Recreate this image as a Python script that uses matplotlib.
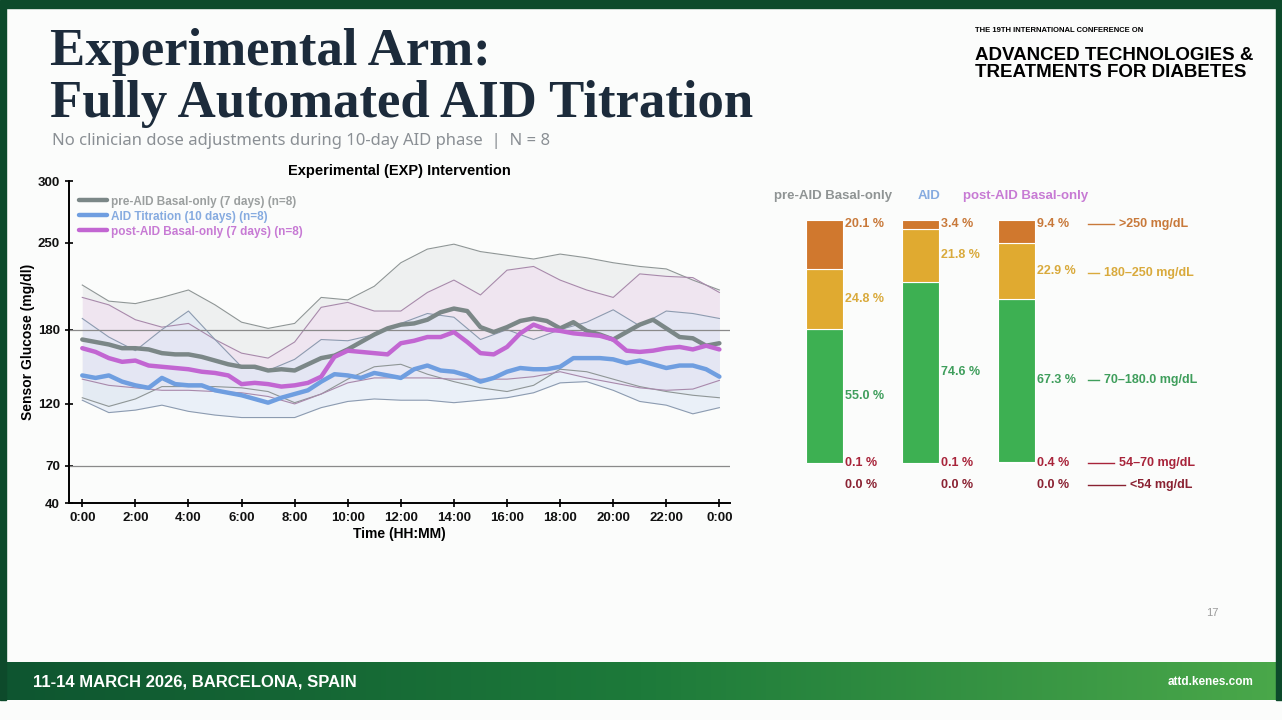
import numpy as np
import matplotlib.pyplot as plt
from matplotlib.patches import Rectangle
from matplotlib.colors import LinearSegmentedColormap

plt.rcParams['font.family'] = ['Liberation Sans', 'DejaVu Sans']

# ---- CGM profile data (mg/dL) ----
hours_fine = np.arange(0, 24.5, 0.5)
hours = np.arange(0, 25, 1)

pre_median = [172, 170, 168, 165, 165, 164, 161, 160, 160, 158, 155, 152, 150, 150, 147, 148,
              147, 152, 157, 159, 164, 170, 176, 181, 184, 185, 188, 194, 197, 195, 182, 178,
              182, 187, 189, 187, 181, 186, 179, 176, 172, 178, 184, 188, 181, 174, 173, 167, 169]
aid_median = [143, 141, 143, 138, 135, 133, 141, 136, 135, 135, 131, 129, 127, 124, 121, 125,
              128, 131, 138, 144, 143, 141, 145, 143, 141, 148, 151, 147, 146, 143, 138, 141,
              146, 149, 148, 148, 150, 157, 157, 157, 156, 153, 155, 152, 149, 151, 151, 148, 142]
post_median = [165, 162, 157, 154, 155, 151, 150, 149, 148, 146, 145, 143, 136, 137, 136, 134,
               135, 137, 142, 158, 163, 162, 161, 160, 169, 171, 174, 174, 178, 170, 161, 160,
               166, 177, 184, 180, 179, 177, 176, 175, 172, 163, 162, 163, 165, 166, 164, 167, 164]

pre_hi = [216, 203, 201, 206, 212, 200, 186, 181, 185, 206, 204, 215, 234, 245, 249, 243,
          240, 237, 241, 238, 234, 231, 229, 220, 212]
pre_lo = [125, 118, 124, 134, 134, 134, 133, 130, 121, 128, 140, 150, 152, 144, 138, 133,
          130, 135, 148, 146, 140, 134, 130, 127, 125]
aid_hi = [189, 174, 163, 180, 195, 172, 150, 147, 156, 172, 171, 176, 185, 193, 190, 172,
          180, 172, 180, 186, 196, 183, 195, 193, 189]
aid_lo = [123, 113, 115, 119, 114, 111, 109, 109, 109, 117, 122, 124, 123, 123, 121, 123,
          125, 129, 137, 138, 131, 122, 119, 112, 117]
post_hi = [206, 200, 188, 182, 185, 172, 161, 157, 170, 198, 202, 195, 195, 210, 220, 208,
           228, 231, 220, 212, 206, 225, 223, 222, 210]
post_lo = [140, 135, 133, 131, 131, 130, 129, 126, 120, 128, 137, 141, 141, 141, 140, 140,
           140, 142, 146, 141, 137, 133, 131, 132, 139]

legend_labels = ['pre-AID Basal-only (7 days) (n=8)',
                 'AID Titration (10 days) (n=8)',
                 'post-AID Basal-only (7 days) (n=8)']
x_ticks = list(range(0, 25, 2))
x_ticklabels = [f'{h % 24}:00' for h in x_ticks]
y_ticks = [40, 70, 120, 180, 250, 300]

# ---- time in range data (%) ----
groups = ['pre-AID Basal-only', 'AID', 'post-AID Basal-only']
ranges = ['<54 mg/dL', '54–70 mg/dL', '70–180.0 mg/dL', '180–250 mg/dL', '>250 mg/dL']
pct_pre = [0.0, 0.1, 55.0, 24.8, 20.1]
pct_aid = [0.0, 0.1, 74.6, 21.8, 3.4]
pct_post = [0.0, 0.4, 67.3, 22.9, 9.4]

W, H = 1282, 720
fig = plt.figure(figsize=(W / 100, H / 100), dpi=100)
fig.patch.set_facecolor('#fbfcfb')


def fx(px):
    return px / W


def fy(py):
    return 1 - py / H


# slide frame
fig.patches.append(Rectangle((0, fy(8)), 1, 8 / H, transform=fig.transFigure, color='#0d4a2b'))
fig.patches.append(Rectangle((0, fy(700)), fx(6), 692 / H, transform=fig.transFigure, color='#0d4a2b'))
fig.patches.append(Rectangle((fx(1276), fy(700)), fx(6), 692 / H, transform=fig.transFigure, color='#0d4a2b'))

# footer band with gradient
fax = fig.add_axes([0, fy(700), 1, 38 / H])
cmap = LinearSegmentedColormap.from_list('foot', ['#0e5530', '#1d7a3a', '#4aa84a'])
fax.imshow(np.linspace(0, 1, 256)[None, :], aspect='auto', cmap=cmap, extent=[0, 1, 0, 1])
fax.set_axis_off()
fig.text(fx(33), fy(682), '11-14 MARCH 2026, BARCELONA, SPAIN', color='white', fontsize=12,
         fontweight='bold', va='center')
fig.text(fx(1253), fy(682), 'attd.kenes.com', color='white', fontsize=8.5,
         fontweight='bold', ha='right', va='center')

# titles
serif = ['Liberation Serif', 'DejaVu Serif']
fig.text(fx(50), fy(52), 'Experimental Arm:', fontsize=38, fontweight='bold',
         family=serif, color='#1c2b3b', va='center')
fig.text(fx(50), fy(104), 'Fully Automated AID Titration', fontsize=38, fontweight='bold',
         family=serif, color='#1c2b3b', va='center')
fig.text(fx(52), fy(141), 'No clinician dose adjustments during 10-day AID phase  |  N = 8',
         fontsize=12, color='#8a8f94', va='center', family=['Noto Sans', 'DejaVu Sans'])

# conference logo
fig.text(fx(975), fy(30), 'THE 19TH INTERNATIONAL CONFERENCE ON', fontsize=5.5, fontweight='bold',
         va='center')
fig.text(fx(975), fy(64), 'ADVANCED TECHNOLOGIES &\nTREATMENTS FOR DIABETES', fontsize=13.5,
         fontweight='bold', va='center', linespacing=1.0)
fig.text(fx(1212), fy(613), '17', fontsize=8, color='#9a9a9a', ha='center', va='center')

# ---- left chart: glucose profiles ----
ax = fig.add_axes([fx(69), fy(503), (730 - 69) / W, (503 - 181) / H])
ax.set_facecolor('none')

bands = [(pre_lo, pre_hi, '#e4e7e7', '#8f9696'),
         (post_lo, post_hi, '#f1dcf1', '#a889ab'),
         (aid_lo, aid_hi, '#dce7f6', '#8c9bb0')]
for lo, hi, fc, lc in bands:
    ax.fill_between(hours, lo, hi, color=fc, alpha=0.55, lw=0)
    ax.plot(hours, hi, color=lc, lw=0.8)
    ax.plot(hours, lo, color=lc, lw=0.8)

ax.axhline(180, color='#8a8a8a', lw=0.9)
ax.axhline(70, color='#8a8a8a', lw=0.9)

c_pre, c_aid, c_post = '#7b8787', '#6f9ee0', '#c266d2'
l1, = ax.plot(hours_fine, pre_median, color=c_pre, lw=3.2, solid_capstyle='round')
l2, = ax.plot(hours_fine, aid_median, color=c_aid, lw=3.2, solid_capstyle='round')
l3, = ax.plot(hours_fine, post_median, color=c_post, lw=3.2, solid_capstyle='round')

leg = ax.legend([l1, l2, l3], legend_labels, loc='upper left', frameon=False,
                handlelength=2.0, handletextpad=0.3, labelspacing=0.15,
                bbox_to_anchor=(0.0, 0.985), borderaxespad=0.3)
for txt, col in zip(leg.get_texts(), ['#9b9f9f', '#86abe0', '#c77ad4']):
    txt.set_color(col)
    txt.set_fontsize(8.5)
    txt.set_fontweight('bold')

ax.set_xlim(-0.5, 24.4)
ax.set_ylim(40, 300)
ax.set_xticks(x_ticks)
ax.set_xticklabels(x_ticklabels)
ax.set_yticks(y_ticks)
ax.tick_params(direction='inout', length=6, width=1.3, labelsize=9.5, colors='#111111')
for lab in ax.get_xticklabels() + ax.get_yticklabels():
    lab.set_fontweight('bold')
for side in ['top', 'right']:
    ax.spines[side].set_visible(False)
for side in ['left', 'bottom']:
    ax.spines[side].set_linewidth(1.4)
ax.set_xlabel('Time (HH:MM)', fontsize=10, fontweight='bold', labelpad=2)
ax.set_ylabel('Sensor Glucose (mg/dl)', fontsize=10, fontweight='bold', labelpad=2)
ax.set_title('Experimental (EXP) Intervention', fontsize=10.5, fontweight='bold', pad=4)

# ---- right chart: time in ranges ----
ax2 = fig.add_axes([fx(760), fy(500), 460 / W, 320 / H])
ax2.set_xlim(-0.672, 4.12)
ax2.set_ylim(-15.2, 116.5)
ax2.set_axis_off()

seg_colors = ['#8b1a2c', '#c0303c', '#3db052', '#e0aa30', '#d0782e']
txt_colors = ['#8a2232', '#a8243a', '#3f9e5c', '#d9aa3c', '#c8793a']
bar_w = 0.385
all_pct = [pct_pre, pct_aid, pct_post]
for i, pcts in enumerate(all_pct):
    bottom = 0
    for j, p in enumerate(pcts):
        ax2.bar(i, p, bottom=bottom, width=bar_w, color=seg_colors[j],
                edgecolor='white', linewidth=0.8)
        bottom += p
    xl = i + bar_w / 2 + 0.02
    cum = np.cumsum(pcts)
    ax2.text(xl, -9, f'{pcts[0]:.1f} %', color=txt_colors[0], fontsize=9, fontweight='bold', va='center')
    ax2.text(xl, 0, f'{pcts[1]:.1f} %', color=txt_colors[1], fontsize=9, fontweight='bold', va='center')
    ax2.text(xl, (cum[1] + cum[2]) / 2, f'{pcts[2]:.1f} %', color=txt_colors[2], fontsize=9,
             fontweight='bold', va='center')
    ax2.text(xl, (cum[2] + cum[3]) / 2, f'{pcts[3]:.1f} %', color=txt_colors[3], fontsize=9,
             fontweight='bold', va='center')
    ax2.text(xl, 98.4, f'{pcts[4]:.1f} %', color=txt_colors[4], fontsize=9, fontweight='bold', va='center')

header_colors = ['#8f9494', '#86abe0', '#c77ad4']
for i, (g, c) in enumerate(zip(groups, header_colors)):
    ax2.text(i + 0.09, 110, g, color=c, fontsize=9.5, fontweight='bold', ha='center', va='center')

# range legend on the right, aligned with the post-AID labels
cum_post = np.cumsum(pct_post)
leg_y = [-9, 0, (cum_post[1] + cum_post[2]) / 2, (cum_post[2] + cum_post[3]) / 2 - 1, 98.4]
leg_line = [(2.75, 3.13), (2.75, 3.02), (2.75, 2.86), (2.75, 2.86), (2.75, 3.02)]
for j in range(5):
    x0, x1 = leg_line[j]
    ax2.plot([x0, x1], [leg_y[j], leg_y[j]], color=txt_colors[j], lw=1.0)
    ax2.text(x1 + 0.05, leg_y[j], ranges[j], color=txt_colors[j],
             fontsize=9, fontweight='bold', va='center')

fig.savefig('out.png', dpi=100, facecolor=fig.get_facecolor())
